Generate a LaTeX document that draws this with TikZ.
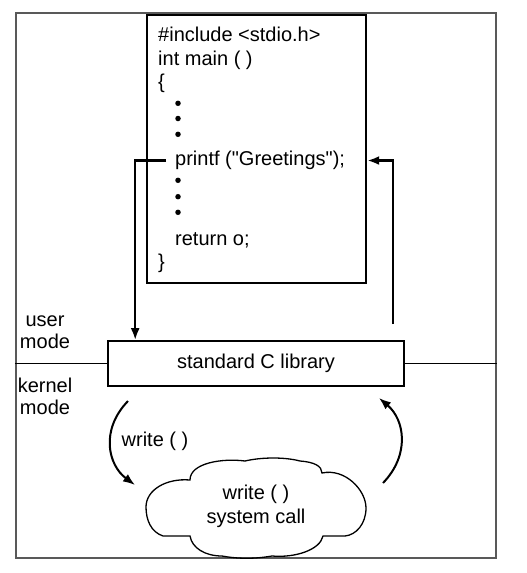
\documentclass[tikz,border=0pt]{standalone}
\usepackage{fontspec}
\setmainfont{Liberation Sans}[Ligatures=TeXOff]
\usetikzlibrary{arrows.meta,calc}
\tikzset{
  txt/.style={inner sep=0pt, font=\fontsize{20}{23.3}\selectfont},
  codeline/.style={txt, anchor=base west},
  arr/.style={line width=2.4pt, -{Latex[length=12pt,width=9pt]}},
  carr/.style={line width=2pt, -{Latex[length=12pt,width=9pt]}},
  bul/.style={circle, fill=black, inner sep=0pt, minimum size=5.5pt},
}
\begin{document}
\begin{tikzpicture}[x=1pt,y=-1pt]
\useasboundingbox (0,0) rectangle (527,573);
% outer frame
\node[draw=black!65, line width=2.2pt, minimum width=480pt, minimum height=545pt, inner sep=0pt] (frame) at (256,285.5) {};
% code box
\node[draw, line width=2pt, minimum width=218.7pt, minimum height=268pt, inner sep=0pt] (code) at (256.3,149) {};
\node[codeline] (l1) at (158,41.7) {\#include <stdio.h>};
\node[codeline] (l2) at (158,65) {int main ( )};
\node[codeline] (l3) at (158,88.3) {\{};
\node[bul] (b1) at (178,103.3) {};
\node[bul] (b2) at (178,118.5) {};
\node[bul] (b3) at (178,134.3) {};
\node[codeline] (printf) at (175,165.7) {printf ("Greetings");};
\node[bul] (b4) at (178,180.3) {};
\node[bul] (b5) at (178,196.7) {};
\node[bul] (b6) at (178,212.3) {};
\node[codeline] (ret) at (175,245) {return o;};
\node[codeline] (l9) at (158,268) {\}};
% library
\node[draw, line width=1.6pt, fill=white, minimum width=296pt, minimum height=45pt, inner sep=0pt, txt] (lib) at (256,363.5) {standard C library};
\draw[line width=1.6pt] (frame.west |- lib.west) -- (lib.west);
\draw[line width=1.6pt] (lib.east) -- (frame.east |- lib.east);
% mode labels
\node[txt, align=center, font=\fontsize{20}{21.5}\selectfont] (user) at (45,332) {user\\mode};
\node[txt, align=center, font=\fontsize{20}{22}\selectfont] (kernel) at (45,396) {kernel\\mode};
% arrows between code and library
\draw[arr] ([xshift=-9pt]printf.west) -| ([xshift=28pt]lib.north west);
\draw[arr] ([xshift=-12pt,yshift=16pt]lib.north east) |- ([xshift=22pt]printf.east);
% cloud
\draw[line width=1.3pt] (190,480)
  .. controls (190,463) and (222,458) .. (245,461)
  .. controls (262,457) and (285,457) .. (300,461)
  .. controls (314,462) and (322,466) .. (322,473)
  .. controls (345,468) and (366,490) .. (366,508)
  .. controls (366,524) and (356,535) .. (345,536)
  -- (323,536)
  .. controls (320,550) and (295,558) .. (272,556)
  .. controls (255,559) and (238,559) .. (222,556)
  .. controls (205,556) and (192,548) .. (190,536)
  -- (163,536)
  .. controls (151,532) and (146,520) .. (146,507)
  .. controls (146,490) and (166,478) .. (190,480) -- cycle;
\node[txt, align=center, font=\fontsize{20}{24}\selectfont] (sys) at (256,506) {write ( )\\system call};
% curved arrows
\coordinate (ls) at (128,401);
\coordinate (le) at (135,485);
\coordinate (rs) at (383,483);
\coordinate (re) at (379,398);
\draw[carr] (ls) .. controls (100,430) and (108,465) .. (le);
\draw[carr] (rs) .. controls (410,455) and (405,420) .. (re);
\node[txt] (wl) at (155,441) {write ( )};
\end{tikzpicture}
\end{document}
